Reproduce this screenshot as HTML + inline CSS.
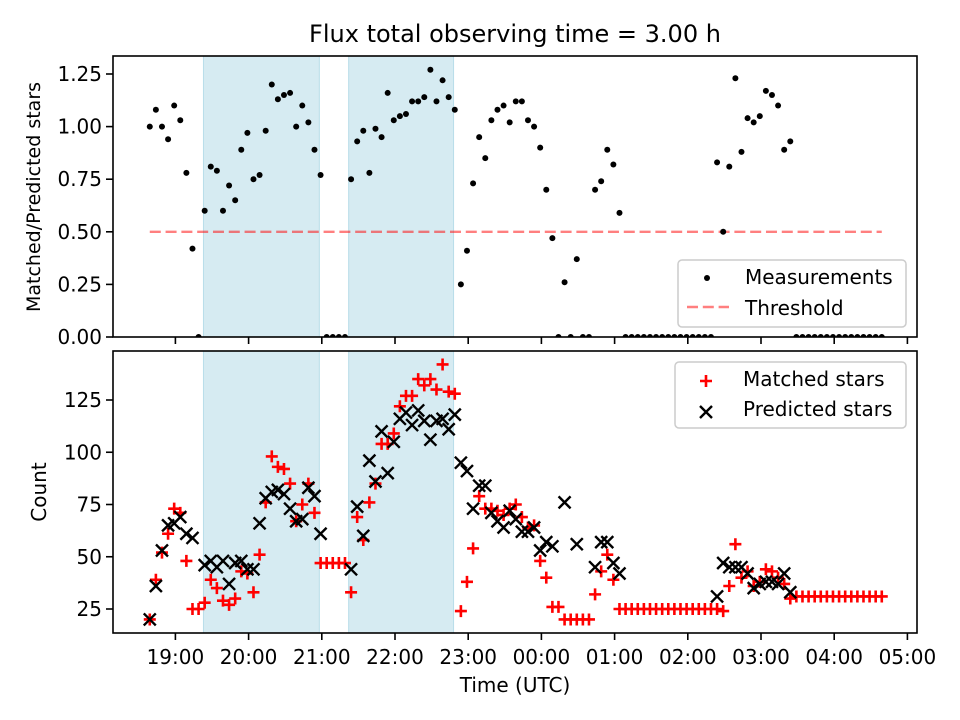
<!DOCTYPE html>
<html>
<head>
<meta charset="utf-8">
<style>
html,body{margin:0;padding:0;background:#fff;}
svg{display:block;font-family:"DejaVu Sans","Liberation Sans",sans-serif;}
</style>
</head>
<body>
<svg id="chart" width="960" height="720" viewBox="0 0 960 720" xmlns="http://www.w3.org/2000/svg"></svg>
<script>
// ---- data ----
const times = ["18:39","18:44","18:49","18:54","18:59",
"19:04","19:09","19:14","19:19","19:24","19:29","19:34","19:39","19:44","19:49","19:54","19:59",
"20:04","20:09","20:14","20:19","20:24","20:29","20:34","20:39","20:44","20:49","20:54","20:59",
"21:04","21:09","21:14","21:19","21:24","21:29","21:34","21:39","21:44","21:49","21:54","21:59",
"22:04","22:09","22:14","22:19","22:24","22:29","22:34","22:39","22:44","22:49","22:54","22:59",
"23:04","23:09","23:14","23:19","23:24","23:29","23:34","23:39","23:44","23:49","23:54","23:59",
"00:04","00:09","00:14","00:19","00:24","00:29","00:34","00:39","00:44","00:49","00:54","00:59",
"01:04","01:09","01:14","01:19","01:24","01:29","01:34","01:39","01:44","01:49","01:54","01:59",
"02:04","02:09","02:14","02:19","02:24","02:29","02:34","02:39","02:44","02:49","02:54","02:59",
"03:04","03:09","03:14","03:19","03:24","03:29","03:34","03:39","03:44","03:49","03:54","03:59",
"04:04","04:09","04:14","04:19","04:24","04:29","04:34","04:39"];
const ratio = [1.00,1.08,1.00,0.94,1.10,1.03,0.78,0.42,0,0.60,0.81,0.79,0.60,0.72,0.65,0.89,0.97,0.75,0.77,0.98,
1.20,1.13,1.15,1.16,1.00,1.10,1.02,0.89,0.77,0,0,0,0,0.75,0.93,0.98,0.78,0.99,0.95,1.16,
1.03,1.05,1.06,1.12,1.12,1.14,1.27,1.12,1.22,1.14,1.08,0.25,0.41,0.73,0.95,0.85,1.03,1.08,1.10,1.02,
1.12,1.12,1.03,1.00,0.90,0.70,0.47,0,0.26,0,0.37,0,0,0.70,0.74,0.89,0.82,0.59,0,0,
0,0,0,0,0,0,0,0,0,0,0,0,0,0.83,0.50,0.81,1.23,0.88,1.04,1.02,
1.05,1.17,1.15,1.10,0.89,0.93,0,0,0,0,0,0,0,0,0,0,0,0,0,0,0];
const matched = [20,39,52,61,73,71,48,25,25,28,39,35,29,27,30,43,42,33,51,76,
98,93,92,85,67,75,85,71,47,47,47,47,47,33,69,58,76,85,104,104,
109,122,127,127,135,132,135,130,142,129,128,24,38,54,79,73,73,72,70,73,
75,69,64,65,48,40,26,26,20,20,20,20,20,32,43,51,39,25,25,25,
25,25,25,25,25,25,25,25,25,25,25,25,25,25,24,36,56,40,43,36,
38,44,43,40,37,30,31,31,31,31,31,31,31,31,31,31,31,31,31,31,31];
const predicted = [20,36,53,65,66,69,61,59,null,46,48,45,48,37,47,48,44,44,66,78,
81,82,80,73,67,68,83,79,61,null,null,null,null,44,74,60,96,86,110,90,
105,116,119,113,120,115,106,115,116,111,118,95,91,73,84,84,71,67,64,72,
68,62,62,64,53,57,55,null,76,null,56,null,null,45,57,57,47,42,null,null,
null,null,null,null,null,null,null,null,null,null,null,null,null,31,47,45,45,45,42,35,
37,38,38,37,42,33,null,null,null,null,null,null,null,null,null,null,null,null,null,null,null];
const threshold = [0.5];
const spanStarts = ["19:23","21:22"];
const spanEnds = ["20:58","22:48"];
const xTickLabels = ["19:00","20:00","21:00","22:00","23:00","00:00","01:00","02:00","03:00","04:00","05:00"];
const topTicks = [0,0.25,0.5,0.75,1.0,1.25];
const topTickLabels = ["0.00","0.25","0.50","0.75","1.00","1.25"];
const botTicks = [25,50,75,100,125];

// ---- scales ----
const NS="http://www.w3.org/2000/svg";
const svg=document.getElementById('chart');
function toH(s){const p=s.split(':');let h=+p[0]+(+p[1])/60;if(h<12)h+=24;return h;}
const AX={l:113,r:917};
const xS=h=>175.4+(h-19)*73.2;
const T={t:56,b:337};
const yTop=v=>337-v*210.4;
const B={t:351,b:633};
const yBot=v=>609-(v-25)*2.09;
function el(tag,attrs,parent){const e=document.createElementNS(NS,tag);for(const k in attrs)e.setAttribute(k,attrs[k]);(parent||svg).appendChild(e);return e;}

// clip paths
const defs=el('defs',{});
const c1=el('clipPath',{id:'clipTop'},defs);el('rect',{x:AX.l,y:T.t,width:AX.r-AX.l,height:T.b-T.t},c1);
const c2=el('clipPath',{id:'clipBot'},defs);el('rect',{x:AX.l,y:B.t,width:AX.r-AX.l,height:B.b-B.t},c2);

function panel(name,top,bot,clip){
  const g=el('g',{'clip-path':'url(#'+clip+')'});
  
  
  for(let i=0;i<spanStarts.length;i++){
    const x0=xS(toH(spanStarts[i])),x1=xS(toH(spanEnds[i]));
    const r=el('rect',{x:x0,y:top,width:x1-x0,height:bot-top,fill:'#add8e6','fill-opacity':0.5,stroke:'#add8e6','stroke-opacity':0.8,'stroke-width':1},g);
    
    
  }
  return g;
}
const gTop=panel('top',T.t,T.b,'clipTop');
const gBot=panel('bottom',B.t,B.b,'clipBot');

// threshold
const th=el('line',{x1:xS(toH(times[0])),x2:xS(toH(times[times.length-1])),y1:yTop(threshold[0]),y2:yTop(threshold[0]),stroke:'#ff0000','stroke-opacity':0.5,'stroke-width':2.4,'stroke-dasharray':'11,4.8'},gTop);



// measurements
for(let i=0;i<times.length;i++){
  const c=el('circle',{cx:xS(toH(times[i])),cy:yTop(ratio[i]),r:3,fill:'#000'},gTop);
  
  
}
// matched / predicted
for(let i=0;i<times.length;i++){
  const x=xS(toH(times[i]));
  const y=yBot(matched[i]);
  const p=el('path',{d:`M${x-6},${y}H${x+6}M${x},${y-6}V${y+6}`,stroke:'#ff0000','stroke-width':2.6,fill:'none'},gBot);
  
  
}
for(let i=0;i<times.length;i++){
  if(predicted[i]===null)continue;
  const x=xS(toH(times[i]));
  const y=yBot(predicted[i]);
  const p=el('path',{d:`M${x-6},${y-6}L${x+6},${y+6}M${x-6},${y+6}L${x+6},${y-6}`,stroke:'#000','stroke-width':2.4,fill:'none'},gBot);
  
  
}

// axes frames
function frame(top,bot,name){
  const r=el('rect',{x:AX.l,y:top,width:AX.r-AX.l,height:bot-top,fill:'none',stroke:'#000','stroke-width':1.6});
  
  
}
frame(T.t,T.b,'top');frame(B.t,B.b,'bottom');

// x ticks
xTickLabels.forEach((lab,i)=>{
  const x=xS(toH(lab)+(lab==="05:00"||toH(lab)<toH("18:00")&&false?0:0));
  const tl1=el('line',{x1:x,x2:x,y1:T.b,y2:T.b+7,stroke:'#000','stroke-width':1.6});
  
  
  const tl2=el('line',{x1:x,x2:x,y1:B.b,y2:B.b+7,stroke:'#000','stroke-width':1.6});
  
  
  const t=el('text',{x:x,y:664,'text-anchor':'middle','font-size':20,fill:'#000'});
  t.textContent=lab;
  
  
});
// y ticks
topTicks.forEach((v,i)=>{
  const y=yTop(v);
  const l=el('line',{x1:AX.l-7,x2:AX.l,y1:y,y2:y,stroke:'#000','stroke-width':1.6});
  
  
  const t=el('text',{x:AX.l-11,y:y+7,'text-anchor':'end','font-size':20,fill:'#000'});
  t.textContent=topTickLabels[i];
  
  
});
botTicks.forEach(v=>{
  const y=yBot(v);
  const l=el('line',{x1:AX.l-7,x2:AX.l,y1:y,y2:y,stroke:'#000','stroke-width':1.6});
  
  
  const t=el('text',{x:AX.l-11,y:y+7,'text-anchor':'end','font-size':20,fill:'#000'});
  t.textContent=String(v);
  
  
});
</script>
<svg width="0" height="0" style="position:absolute"></svg>
<script>
(function(){
const svg=document.getElementById('chart');
const NS="http://www.w3.org/2000/svg";
function el(tag,attrs,parent){const e=document.createElementNS(NS,tag);for(const k in attrs)e.setAttribute(k,attrs[k]);(parent||svg).appendChild(e);return e;}
let t;
t=el('text',{x:515,y:42,'text-anchor':'middle','font-size':24,fill:'#000'});t.textContent='Flux total observing time = 3.00 h';


t=el('text',{x:515,y:692,'text-anchor':'middle','font-size':20,fill:'#000'});t.textContent='Time (UTC)';


t=el('text',{x:40,y:197,'text-anchor':'middle','font-size':19,fill:'#000',transform:'rotate(-90 40 197)'});t.textContent='Matched/Predicted stars';


t=el('text',{x:46,y:492,'text-anchor':'middle','font-size':20,fill:'#000',transform:'rotate(-90 46 492)'});t.textContent='Count';



// top legend
const lg1=el('g',{});


el('rect',{x:678,y:260,width:228,height:67,rx:4,fill:'#fff','fill-opacity':0.8,stroke:'#cccccc','stroke-width':1.5},lg1);
const m1=el('circle',{cx:707,cy:278,r:3,fill:'#000'},lg1);


t=el('text',{x:745,y:284,'font-size':20,fill:'#000'},lg1);t.textContent='Measurements';


const m2=el('line',{x1:687,x2:729,y1:307,y2:307,stroke:'#ff0000','stroke-opacity':0.5,'stroke-width':2.4,'stroke-dasharray':'11,4.8'},lg1);


t=el('text',{x:745,y:315,'font-size':20,fill:'#000'},lg1);t.textContent='Threshold';



// bottom legend
const lg2=el('g',{});


el('rect',{x:675,y:362,width:231,height:66,rx:4,fill:'#fff','fill-opacity':0.8,stroke:'#cccccc','stroke-width':1.5},lg2);
const m3=el('path',{d:'M700,381H712M706,375V387',stroke:'#ff0000','stroke-width':2.6,fill:'none'},lg2);


t=el('text',{x:743,y:386,'font-size':20,fill:'#000'},lg2);t.textContent='Matched stars';


const m4=el('path',{d:'M700,406L712,418M700,418L712,406',stroke:'#000','stroke-width':2.4,fill:'none'},lg2);


t=el('text',{x:743,y:416,'font-size':20,fill:'#000'},lg2);t.textContent='Predicted stars';


})();
</script>
</body>
</html>
